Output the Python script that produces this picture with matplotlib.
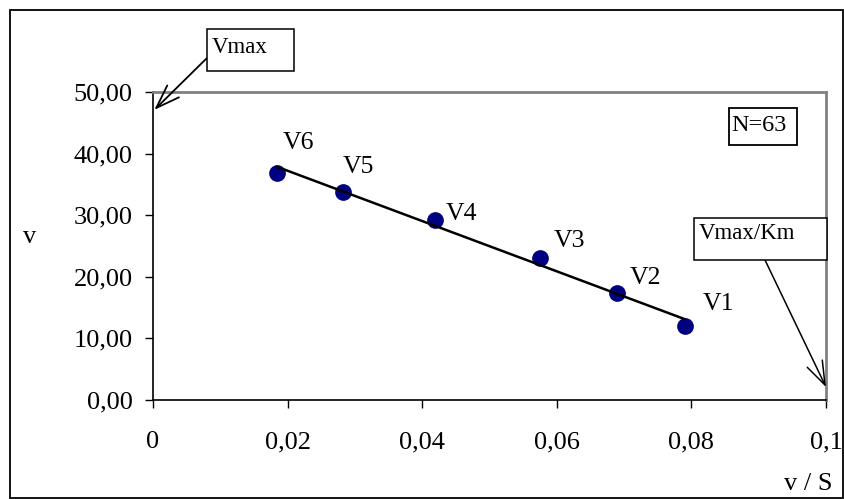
import numpy as np
import matplotlib
matplotlib.use("Agg")
import matplotlib.pyplot as plt
from matplotlib.patches import Rectangle
from matplotlib.ticker import FixedLocator

labels = ["V1", "V2", "V3", "V4", "V5", "V6"]
x_vals = [0.0790, 0.0689, 0.0575, 0.0419, 0.0282, 0.0184]
y_vals = [12.0, 17.3, 23.0, 29.3, 33.8, 36.9]
label_offsets = [(13, 11.5), (9.4, 6.5), (10, 7.9), (7.9, -0.7), (0, 13.7), (4.3, 17.3)]
x_ticks = [0, 0.02, 0.04, 0.06, 0.08, 0.1]
x_tick_labels = ["0", "0,02", "0,04", "0,06", "0,08", "0,1"]
y_ticks = [0, 10, 20, 30, 40, 50]
y_tick_labels = ["0,00", "10,00", "20,00", "30,00", "40,00", "50,00"]

plt.rcParams['font.family'] = ['Liberation Serif', 'DejaVu Serif']

W, H = 845, 499
fig = plt.figure(figsize=(W / 100, H / 100), dpi=100)
ax = fig.add_axes([153 / W, 1 - 400 / H, (826 - 153) / W, (400 - 92) / H])

def fx(px):
    return px / W

def fy(py):
    return 1 - py / H

# outer chart border
fig.patches.append(Rectangle((fx(10), fy(498)), (843 - 10) / W, (498 - 10) / H,
                             transform=fig.transFigure, fill=False,
                             edgecolor='black', linewidth=1.3))

ax.set_xlim(0, 0.1)
ax.set_ylim(0, 50)

ax.scatter(x_vals, y_vals, s=145, color='#000080', zorder=3, linewidths=0)

# trend line (linear fit)
coef = np.polyfit(x_vals, y_vals, 1)
xs = np.array([min(x_vals), max(x_vals)])
ax.plot(xs, np.polyval(coef, xs), color='black', linewidth=1.8, zorder=4)

for lab, x, y, off in zip(labels, x_vals, y_vals, label_offsets):
    ax.annotate(lab, (x, y), xytext=off, textcoords='offset points',
                fontsize=18.5, ha='left', va='baseline')

ax.xaxis.set_major_locator(FixedLocator(x_ticks))
ax.set_xticklabels(x_tick_labels)
ax.yaxis.set_major_locator(FixedLocator(y_ticks))
ax.set_yticklabels(y_tick_labels)
ax.tick_params(axis='both', labelsize=19, direction='out', length=5.5, width=1, color='black')
ax.tick_params(axis='x', pad=17)
ax.tick_params(axis='y', pad=9)

for side in ['left', 'bottom']:
    ax.spines[side].set_color('black')
    ax.spines[side].set_linewidth(1.2)
for side in ['top', 'right']:
    ax.spines[side].set_color('#808080')
    ax.spines[side].set_linewidth(2)

fig.text(fx(30), fy(243), "v", fontsize=19, ha='center', va='baseline')
fig.text(fx(833), fy(490), "v / S", fontsize=19, ha='right', va='baseline')

# N=63 box
fig.patches.append(Rectangle((fx(729), fy(145)), 68 / W, 37 / H,
                             transform=fig.transFigure, fill=True, facecolor='white',
                             edgecolor='black', linewidth=1.3, zorder=5))
fig.text(fx(731), fy(131), "N=63", fontsize=17.5, ha='left', va='baseline', zorder=6)

# Vmax annotation
fig.patches.append(Rectangle((fx(207), fy(71)), 87 / W, 42 / H,
                             transform=fig.transFigure, fill=True, facecolor='white',
                             edgecolor='black', linewidth=1.1, zorder=5))
fig.text(fx(212), fy(53), "Vmax", fontsize=16.5, ha='left', va='baseline', zorder=6)
ax.annotate("", xy=(0.0002, 47.1), xycoords='data',
            xytext=(fx(207), fy(58)), textcoords='figure fraction',
            arrowprops=dict(arrowstyle='->,head_length=1.7,head_width=0.6', color='black',
                            lw=1.3, shrinkA=0, shrinkB=0),
            annotation_clip=False)

# Vmax/Km annotation
fig.patches.append(Rectangle((fx(694), fy(260)), 133 / W, 42 / H,
                             transform=fig.transFigure, fill=True, facecolor='white',
                             edgecolor='black', linewidth=1.1, zorder=5))
fig.text(fx(699), fy(239), "Vmax/Km", fontsize=16.5, ha='left', va='baseline', zorder=6)
ax.annotate("", xy=(0.1, 2.1), xycoords='data',
            xytext=(fx(765), fy(260)), textcoords='figure fraction',
            arrowprops=dict(arrowstyle='->,head_length=1.7,head_width=0.6', color='black',
                            lw=1.1, shrinkA=0, shrinkB=0),
            annotation_clip=False)

fig.savefig("out.png", dpi=100)
